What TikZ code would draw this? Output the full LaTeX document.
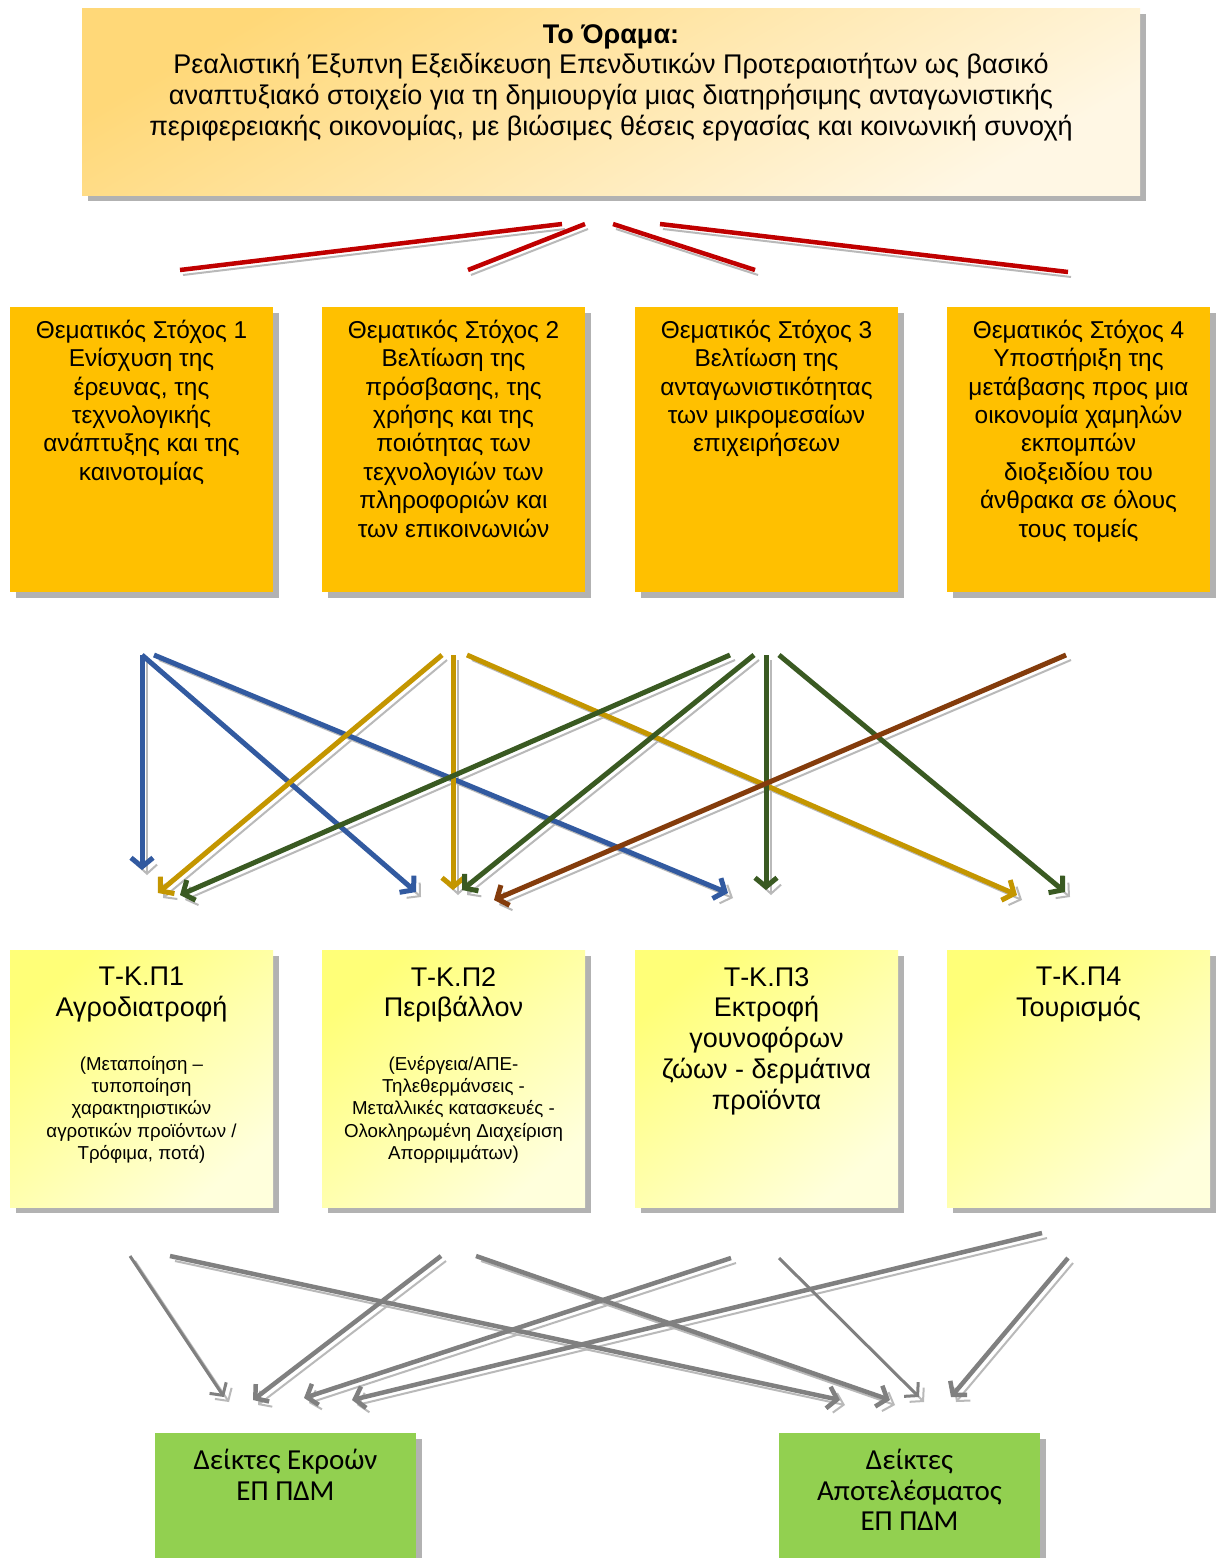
\documentclass[tikz,border=0pt]{standalone}
\usepackage{fontspec}
\setmainfont{Liberation Sans}
\newfontfamily\calib{Carlito}
\usetikzlibrary{arrows.meta,shadows}
\definecolor{cblue}{RGB}{50,90,160}
\definecolor{cgold}{RGB}{196,150,0}
\definecolor{cdgreen}{RGB}{58,90,34}
\definecolor{cbrown}{RGB}{132,60,12}
\definecolor{cred}{RGB}{192,0,0}
\definecolor{cgray}{RGB}{128,128,128}
\definecolor{corange}{RGB}{255,192,0}
\definecolor{cgreen}{RGB}{146,208,80}
\definecolor{vtop}{RGB}{255,216,120}
\definecolor{vbot}{RGB}{255,247,228}
\definecolor{ytop}{RGB}{255,255,120}
\definecolor{ybot}{RGB}{255,255,220}
\tikzset{
  boxshadow/.style={drop shadow={shadow xshift=6pt,shadow yshift=-6pt,fill=gray!60,opacity=1}},
  visionbox/.style={anchor=north west,inner sep=0,draw=none,minimum width=1058,minimum height=187,
    top color=vtop,bottom color=vbot,shading angle=30,boxshadow},
  obox/.style={anchor=north west,inner sep=0,draw=none,fill=corange,minimum width=263,minimum height=285,boxshadow},
  ybox/.style={anchor=north west,inner sep=0,draw=none,minimum width=263,minimum height=257,
    top color=ytop,bottom color=ybot,shading angle=40,boxshadow},
  gbox/.style={anchor=north west,inner sep=0,draw=none,fill=cgreen,minimum width=261,minimum height=125,boxshadow},
  otext/.style={anchor=north,align=center,inner sep=0,font=\fontsize{24.4}{28.35}\selectfont},
  ytitle/.style={anchor=north,align=center,inner sep=0,font=\fontsize{27}{30.8}\selectfont},
  ysmall/.style={anchor=north,align=center,inner sep=0,font=\fontsize{18.7}{22.25}\selectfont},
  gtext/.style={anchor=north,align=center,inner sep=0,font=\calib\fontsize{29}{30.6}\selectfont},
  lshadow/.style={draw=gray!55,line width=2pt},
  tipshadow/.style={draw=gray!45,line width=1.5pt,-{Straight Barb[length=9pt,width=20pt]}},
  redline/.style={draw=cred,line width=4.5pt},
  carrow/.style={line width=5pt,-{Straight Barb[length=9pt,width=22pt]}},
  garrow/.style={draw=cgray,line width=4.5pt,-{Straight Barb[length=9pt,width=22pt]}},
  gthin/.style={draw=cgray,line width=3pt,-{Straight Barb[length=9pt,width=20pt]}},
}
\begin{document}
\begin{tikzpicture}[x=1pt,y=-1pt]
\useasboundingbox[fill=white] (0,0) rectangle (1222,1558);

% ---- vision box
\node[visionbox] (vision) at (82,8) {};
\node[anchor=north,align=center,inner sep=0,font=\fontsize{27}{30.7}\selectfont] (visiontxt) at (611,24)
 {\textbf{Το Όραμα:}\\Ρεαλιστική Έξυπνη Εξειδίκευση Επενδυτικών Προτεραιοτήτων ως βασικό\\
  αναπτυξιακό στοιχείο για τη δημιουργία μιας διατηρήσιμης ανταγωνιστικής\\
  περιφερειακής οικονομίας, με βιώσιμες θέσεις εργασίας και κοινωνική συνοχή};

% ---- thematic objective boxes
\node[obox] (to1) at (10,307) {};
\node[obox] (to2) at (322,307) {};
\node[obox] (to3) at (635,307) {};
\node[obox] (to4) at (947,307) {};
\node[otext] (to1t) at (141.5,320) {Θεματικός Στόχος 1\\Ενίσχυση της\\έρευνας, της\\τεχνολογικής\\ανάπτυξης και της\\καινοτομίας};
\node[otext] (to2t) at (453.5,320) {Θεματικός Στόχος 2\\Βελτίωση της\\πρόσβασης, της\\χρήσης και της\\ποιότητας των\\τεχνολογιών των\\πληροφοριών και\\των επικοινωνιών};
\node[otext] (to3t) at (766.5,320) {Θεματικός Στόχος 3\\Βελτίωση της\\ανταγωνιστικότητας\\των μικρομεσαίων\\επιχειρήσεων};
\node[otext] (to4t) at (1078.5,320) {Θεματικός Στόχος 4\\Υποστήριξη της\\μετάβασης προς μια\\οικονομία χαμηλών\\εκπομπών\\διοξειδίου του\\άνθρακα σε όλους\\τους τομείς};

% ---- sector boxes
\node[ybox] (tk1) at (10,950) {};
\node[ybox] (tk2) at (322,950) {};
\node[ybox] (tk3) at (635,950) {};
\node[ybox] (tk4) at (947,950) {};
\node[ytitle] (tk1t) at (141.5,967) {Τ-Κ.Π1\\Αγροδιατροφή};
\node[ytitle] (tk2t) at (453.5,967) {Τ-Κ.Π2\\Περιβάλλον};
\node[ytitle] (tk3t) at (766.5,967) {Τ-Κ.Π3\\Εκτροφή\\γουνοφόρων\\ζώων - δερμάτινα\\προϊόντα};
\node[ytitle] (tk4t) at (1078.5,967) {Τ-Κ.Π4\\Τουρισμός};
\node[ysmall] (tk1s) at (141.5,1056) {(Μεταποίηση –\\τυποποίηση\\χαρακτηριστικών\\αγροτικών προϊόντων /\\Τρόφιμα, ποτά)};
\node[ysmall] (tk2s) at (453.5,1056) {(Ενέργεια/ΑΠΕ-\\Τηλεθερμάνσεις -\\Μεταλλικές κατασκευές -\\Ολοκληρωμένη Διαχείριση\\Απορριμμάτων)};

% ---- indicator boxes
\node[gbox] (ind1) at (155,1433) {};
\node[gbox] (ind2) at (779,1433) {};
\node[gtext] (ind1t) at (285.5,1449) {Δείκτες Εκροών\\ΕΠ ΠΔΜ};
\node[gtext] (ind2t) at (909.5,1449) {Δείκτες\\Αποτελέσματος\\ΕΠ ΠΔΜ};

% ---- red lines (vision -> objectives)
\coordinate (r1a) at (180,270); \coordinate (r1b) at (562,224);
\coordinate (r2a) at (468,270); \coordinate (r2b) at (585,224);
\coordinate (r3a) at (613,224); \coordinate (r3b) at (755,270);
\coordinate (r4a) at (660,224); \coordinate (r4b) at (1068,272);
\foreach \a/\b in {r1a/r1b,r2a/r2b,r3a/r3b,r4a/r4b}{
  \draw[lshadow] ([xshift=3pt,yshift=-5pt]\a) -- ([xshift=3pt,yshift=-5pt]\b);
  \draw[redline] (\a) -- (\b);
}

% ---- objectives -> sectors
\coordinate (b1s) at (142,655);  \coordinate (b1e) at (142,870);
\coordinate (b2s) at (142,655);  \coordinate (b2e) at (416,892);
\coordinate (b3s) at (154,655);  \coordinate (b3e) at (728,893);
\coordinate (g1s) at (442,655);  \coordinate (g1e) at (158,893);
\coordinate (g2s) at (453,655);  \coordinate (g2e) at (453,890);
\coordinate (g3s) at (467,655);  \coordinate (g3e) at (1017,895);
\coordinate (d1s) at (730,655);  \coordinate (d1e) at (180,895);
\coordinate (d2s) at (754,655);  \coordinate (d2e) at (462,890);
\coordinate (d3s) at (766,655);  \coordinate (d3e) at (766,890);
\coordinate (d4s) at (779,655);  \coordinate (d4e) at (1065,892);
\coordinate (brs) at (1066,655); \coordinate (bre) at (494,900);
\foreach \a/\b in {b1s/b1e,b2s/b2e,b3s/b3e,g1s/g1e,g2s/g2e,g3s/g3e,d1s/d1e,d2s/d2e,d3s/d3e,d4s/d4e,brs/bre}{
  \draw[tipshadow,lshadow] ([xshift=5pt,yshift=-5pt]\a) -- ([xshift=5pt,yshift=-5pt]\b);
}
\foreach \a/\b/\c in {b1s/b1e/cblue,b2s/b2e/cblue,b3s/b3e/cblue,g1s/g1e/cgold,g2s/g2e/cgold,g3s/g3e/cgold,
  d1s/d1e/cdgreen,d2s/d2e/cdgreen,d3s/d3e/cdgreen,d4s/d4e/cdgreen,brs/bre/cbrown}{
  \draw[carrow,draw=\c] (\a) -- (\b);
}

% ---- sectors -> indicators
\coordinate (a1s) at (130,1256);  \coordinate (a1e) at (224,1397);
\coordinate (a2s) at (170,1256);  \coordinate (a2e) at (840,1400);
\coordinate (a3s) at (441,1256);  \coordinate (a3e) at (253,1400);
\coordinate (a4s) at (476,1256);  \coordinate (a4e) at (890,1400);
\coordinate (a5s) at (731,1258);  \coordinate (a5e) at (304,1398);
\coordinate (a6s) at (1042,1233); \coordinate (a6e) at (352,1400);
\coordinate (a7s) at (779,1258);  \coordinate (a7e) at (919,1397);
\coordinate (a8s) at (1068,1258); \coordinate (a8e) at (951,1397);
\foreach \a/\b in {a1s/a1e,a2s/a2e,a3s/a3e,a4s/a4e,a5s/a5e,a6s/a6e,a7s/a7e,a8s/a8e}{
  \draw[tipshadow,lshadow] ([xshift=5pt,yshift=-5pt]\a) -- ([xshift=5pt,yshift=-5pt]\b);
}
\foreach \a/\b in {a2s/a2e,a3s/a3e,a4s/a4e,a5s/a5e,a6s/a6e,a8s/a8e}{
  \draw[garrow] (\a) -- (\b);
}
\foreach \a/\b in {a1s/a1e,a7s/a7e}{
  \draw[gthin] (\a) -- (\b);
}
\end{tikzpicture}
\end{document}
